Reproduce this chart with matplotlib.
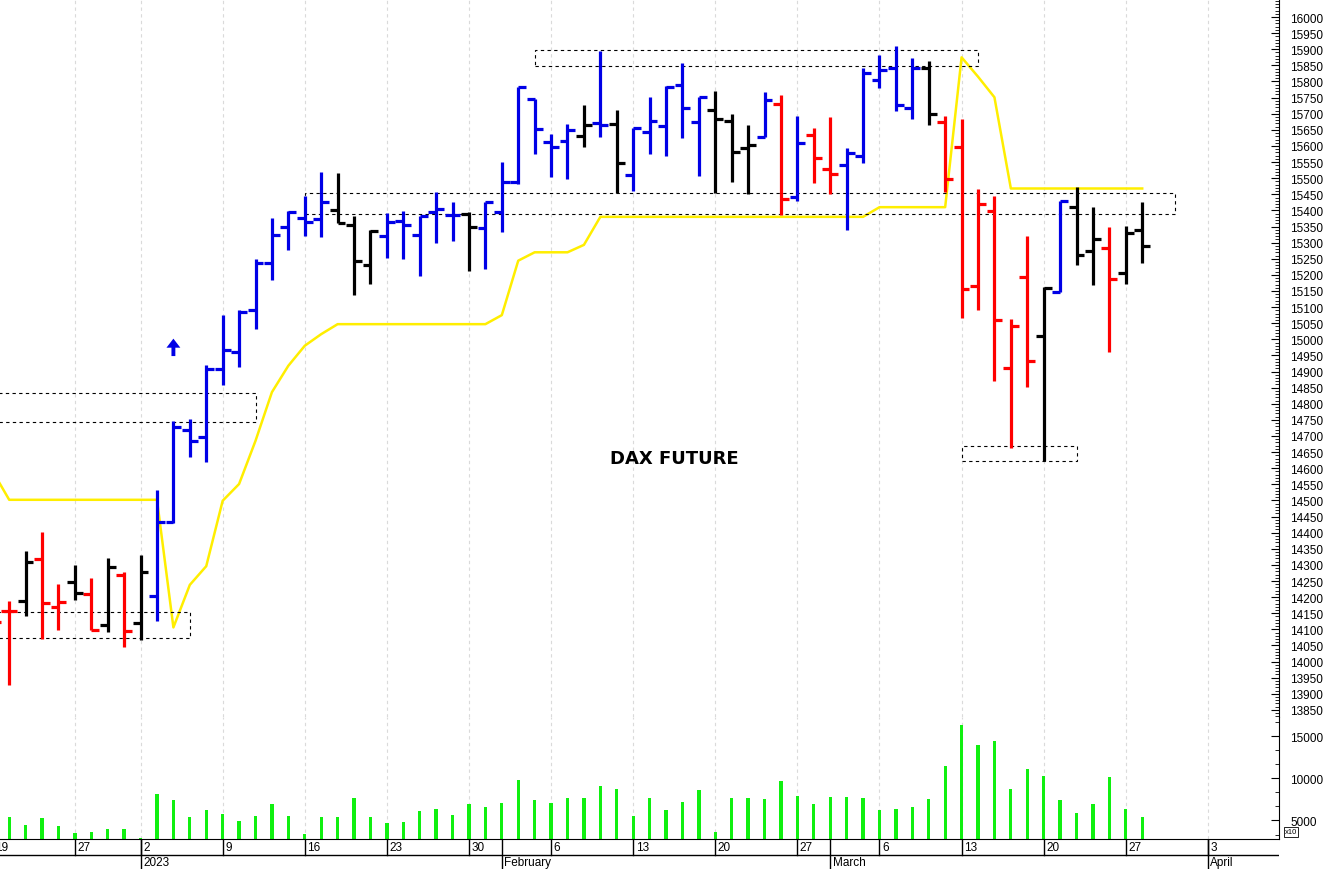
import matplotlib
matplotlib.use("Agg")
import matplotlib.pyplot as plt
import matplotlib.ticker as mticker
from matplotlib.patches import Rectangle
import numpy as np
import pandas as pd

plt.rcParams['font.family'] = ['Liberation Sans', 'DejaVu Sans']

# Eurex trading calendar (closed 26 Dec 2022), extended past the last bar for the axis
cal = pd.bdate_range('2022-12-19', '2023-04-07').drop(pd.Timestamp('2022-12-26'))
n_bars = 71
dates = cal[:n_bars]

opens = [14180, 14158, 14187, 14318, 14168, 14246, 14210, 14114, 14269, 14120,
         14203, 14433, 14719, 14698, 14908, 14962, 15091, 15236, 15349, 15376,
         15373, 15401, 15355, 15231, 15320, 15366, 15324, 15394, 15387, 15389,
         15344, 15394, 15489, 15746, 15611, 15616, 15632, 15670, 15668, 15510,
         15642, 15661, 15789, 15675, 15711, 15678, 15593, 15629, 15730, 15441,
         15634, 15528, 15541, 15570, 15805, 15841, 15717, 15841, 15675, 15596,
         15164, 15397, 14911, 15192, 15011, 15148, 15411, 15275, 15283, 15206,
         15339]
highs = [14240, 14189, 14344, 14401, 14241, 14301, 14258, 14320, 14279, 14331,
         14533, 14747, 14753, 14921, 15075, 15091, 15249, 15375, 15399, 15446,
         15518, 15515, 15382, 15339, 15392, 15399, 15383, 15458, 15425, 15394,
         15425, 15551, 15784, 15746, 15637, 15668, 15726, 15895, 15711, 15655,
         15753, 15787, 15857, 15753, 15771, 15699, 15665, 15768, 15758, 15692,
         15655, 15689, 15593, 15841, 15882, 15911, 15872, 15864, 15694, 15684,
         15466, 15446, 15063, 15321, 15163, 15430, 15473, 15411, 15347, 15352,
         15425]
lows = [14060, 13927, 14142, 14070, 14099, 14192, 14099, 14091, 14044, 14067,
        14125, 14430, 14636, 14618, 14858, 14913, 15032, 15184, 15277, 15322,
        15318, 15360, 15137, 15171, 15251, 15249, 15197, 15298, 15306, 15213,
        15218, 15332, 15482, 15575, 15503, 15497, 15596, 15627, 15454, 15461,
        15575, 15570, 15624, 15506, 15454, 15489, 15451, 15629, 15386, 15430,
        15485, 15451, 15340, 15547, 15779, 15709, 15684, 15665, 15458, 15065,
        15091, 14872, 14663, 14851, 14621, 15148, 15231, 15168, 14960, 15172,
        15236]
closes = [14124, 14158, 14308, 14182, 14184, 14212, 14099, 14293, 14096, 14277,
          14432, 14727, 14685, 14908, 14967, 15084, 15236, 15324, 15396, 15365,
          15427, 15361, 15244, 15337, 15365, 15355, 15383, 15404, 15387, 15347,
          15425, 15489, 15784, 15652, 15598, 15650, 15665, 15665, 15546, 15655,
          15678, 15782, 15717, 15753, 15684, 15582, 15603, 15742, 15435, 15609,
          15563, 15513, 15578, 15826, 15836, 15727, 15841, 15699, 15497, 15156,
          15420, 15060, 15042, 14932, 15158, 15430, 15262, 15311, 15187, 15330,
          15289]
# b = up trend, r = down trend, k = neutral
bar_trend = ("rrkrrkrkrk" "bbbbbbbbbbb" "kkk" "bbbbb" "k" "bbbbbb" "k" "b" "k"
             "bbbbb" "kkk" "b" "r" "b" "rr" "bbbbb" "k" "rrrrrr" "k" "b" "kk" "r" "kk")

trail_stop = [14590, 14502, 14502, 14502, 14502, 14502, 14502, 14502, 14502, 14502,
              14502, 14106, 14238, 14296, 14499, 14551, 14685, 14836, 14918, 14980,
              15016, 15047, 15047, 15047, 15047, 15047, 15047, 15047, 15047, 15047,
              15047, 15075, 15244, 15270, 15270, 15270, 15293, 15380, 15380, 15380,
              15380, 15380, 15380, 15380, 15380, 15380, 15380, 15380, 15380, 15380,
              15380, 15380, 15380, 15380, 15410, 15410, 15410, 15410, 15410, 15875,
              15815, 15751, 15468, 15468, 15468, 15468, 15468, 15468, 15468, 15468,
              15468]

# volume in units of 10 contracts
volume = [5000, 5390, 4490, 5310, 4330, 3470, 3630, 3980, 3980, 2960,
          8140, 7390, 5430, 6250, 5780, 4960, 5550, 6920, 5550, 3390,
          5430, 5430, 7630, 5430, 4720, 4800, 6140, 6370, 5670, 7000,
          6610, 7120, 9860, 7430, 7120, 7670, 7670, 9080, 8720, 5550,
          7670, 6250, 7160, 8610, 3630, 7630, 7670, 7510, 9750, 7900,
          7000, 7780, 7780, 7630, 6250, 6370, 6570, 7510, 11430, 16330,
          13980, 14490, 8800, 11080, 10290, 7390, 5860, 6920, 10140, 6330,
          5430]

# support / resistance zones: (low, high, first bar index, last bar index)
zone_low = [14742, 14072, 15847, 15389, 14621]
zone_high = [14832, 14153, 15899, 15453, 14668]
zone_start = [-3, -3, 33, 19, 59]
zone_end = [16, 12, 60, 72, 66]

assert len(bar_trend) == n_bars == len(opens) == len(highs) == len(lows) == len(closes)
assert len(trail_stop) == n_bars == len(volume)

W, H = 1328, 870
fig = plt.figure(figsize=(W / 100, H / 100), dpi=100)
right = 1279 / W
ax = fig.add_axes([0, (H - 718) / H, right, 718 / H])
axv = fig.add_axes([0, (H - 840) / H, right, 122 / H], sharex=ax)
axd = fig.add_axes([0, 0, right, 30 / H], sharex=ax)

x = np.arange(n_bars)
trend_colors = {'b': '#0000e6', 'r': '#ff0000', 'k': '#000000'}
cols = [trend_colors[c] for c in bar_trend]

# week / month ticks from the calendar
iso_week = cal.isocalendar().week.values
week_idx = [i for i in range(len(cal)) if i == 0 or iso_week[i] != iso_week[i - 1]]
month_idx = [i for i in range(1, len(cal)) if cal[i].month != cal[i - 1].month]

for a in (ax, axv):
    for i in week_idx:
        a.axvline(i, color='#dadada', lw=0.8, ls=(0, (3, 3)), zorder=0)

# trailing stop line
ax.plot(x, trail_stop, color='#ffee00', lw=1.8, zorder=1)

# zones
for lo, hi, s, e in zip(zone_low, zone_high, zone_start, zone_end):
    ax.add_patch(Rectangle((s, lo), e - s, hi - lo, fill=False, ec='black',
                           lw=0.8, ls=(0, (3, 3)), zorder=2))

# OHLC bars
ax.vlines(x, lows, highs, colors=cols, lw=2.3, zorder=3)
ax.hlines(opens, x - 0.48, x, colors=cols, lw=2.3, zorder=3)
ax.hlines(closes, x, x + 0.48, colors=cols, lw=2.3, zorder=3)

ax.annotate('', xy=(11, 15002), xytext=(11, 14948),
            arrowprops=dict(arrowstyle='simple,head_width=1.0,head_length=0.65,tail_width=0.28',
                            color='#0000e6', lw=0, shrinkA=0, shrinkB=0))
ax.text(41.5, 14632, 'DAX FUTURE', fontsize=13, fontweight='bold',
        family='DejaVu Sans', ha='center', va='center')

ax.set_xlim(0.44, 78.33)
ax.set_ylim(13828, 16056)
for s in ('left', 'top', 'bottom'):
    ax.spines[s].set_visible(False)
ax.yaxis.tick_right()
ax.yaxis.set_major_locator(mticker.FixedLocator(np.arange(13850, 16001, 50)))
ax.yaxis.set_minor_locator(mticker.MultipleLocator(10))
ax.tick_params(axis='y', which='major', direction='in', length=6, width=0.8,
               labelsize=8.5, pad=8)
ax.tick_params(axis='y', which='minor', direction='in', length=3, width=0.6)
ax.tick_params(axis='x', which='both', bottom=False, labelbottom=False)

# volume panel
axv.bar(x, volume, width=0.2, color='#10f010', zorder=2)
axv.set_ylim(2800, 17300)
for s in ('left', 'top'):
    axv.spines[s].set_visible(False)
axv.yaxis.tick_right()
axv.yaxis.set_major_locator(mticker.FixedLocator([5000, 10000, 15000]))
axv.yaxis.set_minor_locator(mticker.MultipleLocator(5000 / 3))
axv.tick_params(axis='y', which='major', direction='in', length=6, width=0.8,
                labelsize=8.5, pad=8)
axv.tick_params(axis='y', which='minor', direction='in', length=3, width=0.6)
axv.tick_params(axis='x', which='both', bottom=False, labelbottom=False)
fig.text(1285 / W, 1 - 833 / H, 'x10', fontsize=5.5, va='center', ha='left',
         bbox=dict(boxstyle='square,pad=0.15', fc='white', ec='black', lw=0.6))

# date axis rows
axd.set_ylim(0, 30)
axd.axis('off')
axd.axhline(14, color='black', lw=1)
for i in week_idx:
    axd.plot([i, i], [14, 30], color='black', lw=1)
    axd.text(i + 0.15, 22, str(cal[i].day), fontsize=8.5, ha='left', va='center')
for i in month_idx:
    axd.plot([i, i], [0, 30], color='black', lw=1)
    label = str(cal[i].year) if cal[i].month == 1 else cal[i].strftime('%B')
    axd.text(i + 0.15, 6.5, label, fontsize=8.5, ha='left', va='center')

fig.savefig('out.png', dpi=100)
